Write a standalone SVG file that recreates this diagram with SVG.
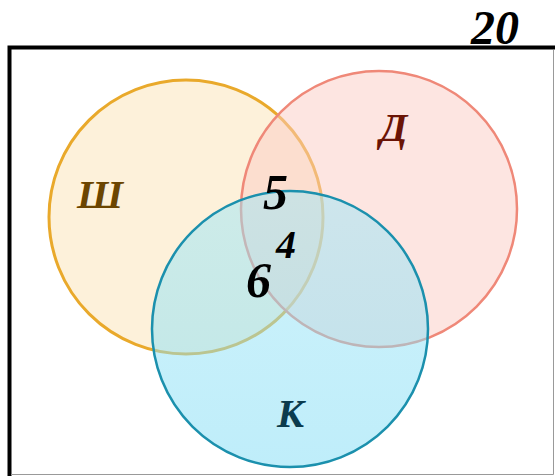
<svg xmlns="http://www.w3.org/2000/svg" width="555" height="476" viewBox="0 0 555 476">
  <defs>
    <linearGradient id="gk" x1="0" y1="0" x2="0" y2="1">
      <stop offset="0" stop-color="#9fe6f7"/>
      <stop offset="1" stop-color="#7fdcf5"/>
    </linearGradient>
  </defs>
  <style>
    .lbl { font-family: "Liberation Serif", "DejaVu Serif", serif; font-weight: bold; font-style: italic; }
    .num { fill: #000; }
    .set { fill-opacity: 0.5; }
  </style>
  <rect x="0" y="0" width="555" height="476" fill="#ffffff"/>
  <g id="frame">
    <path d="M9.5 476 V47.5 H555" fill="none" stroke="#000" stroke-width="4"/>
    <path d="M11 474.5 H553.5 V50" fill="none" stroke="#999" stroke-width="1"/>
  </g>
  <text id="total" class="lbl num" x="471" y="44" font-size="48">20</text>
  <g id="set-sh">
    <circle class="set" cx="186" cy="217" r="137" fill="#fbe4b6" stroke="#e9a92b" stroke-width="3" stroke-opacity="1"/>
  </g>
  <g id="set-d">
    <circle class="set" cx="379" cy="209" r="138" fill="#fbcbc3" stroke="#ef8878" stroke-width="2.5"/>
  </g>
  <g id="set-k">
    <circle class="set" cx="290" cy="329" r="138" fill="url(#gk)" stroke="#1b90ad" stroke-width="2.5"/>
  </g>
  <g id="labels">
    <text class="lbl" x="77" y="208" font-size="41" fill="#6b4500">Ш</text>
    <text class="lbl" x="380" y="141" font-size="40" fill="#6b1405">Д</text>
    <text class="lbl" x="277" y="427" font-size="40" fill="#0b3b4d">К</text>
    <text class="lbl num" x="263" y="209" font-size="50">5</text>
    <text class="lbl num" x="276" y="258" font-size="40">4</text>
    <text class="lbl num" x="246" y="297" font-size="50">6</text>
  </g>
</svg>
